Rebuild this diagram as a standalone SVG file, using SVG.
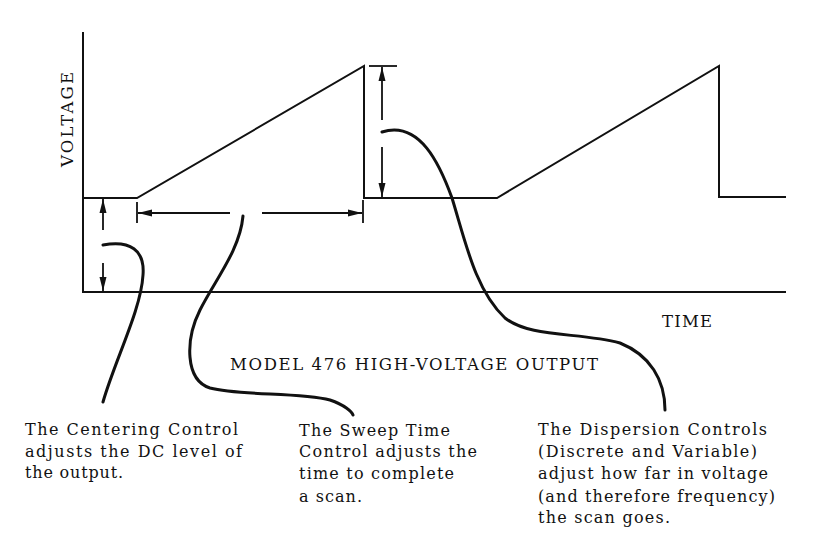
<svg xmlns="http://www.w3.org/2000/svg" width="833" height="545" viewBox="0 0 833 545">
<style>
.ln{fill:none;stroke:#111;stroke-width:2;stroke-linejoin:miter}
.dim{fill:none;stroke:#111;stroke-width:1.8}
.cv{fill:none;stroke:#111;stroke-width:3;stroke-linecap:round}
.t{font-family:"DejaVu Serif","Liberation Serif",serif;font-size:16px;fill:#111}
.h{font-family:"DejaVu Serif","Liberation Serif",serif;font-size:16.5px;fill:#111}
</style>
<defs>
<marker id="ah" markerUnits="userSpaceOnUse" markerWidth="15" markerHeight="8" refX="14" refY="4" orient="auto">
<path d="M0,0.5 L14,4 L0,7.5 z" fill="#111"/>
</marker>
</defs>
<rect width="833" height="545" fill="#fff"/>
<g id="axes">
<path class="ln" d="M83,32 V292 H786"/>
</g>
<g id="waveform">
<path class="ln" d="M83,198 H137 L364,66 V198 H497 L719,66 V197 H786"/>
</g>
<g id="centering-dim">
<line class="dim" x1="103" y1="230" x2="103" y2="199" marker-end="url(#ah)"/>
<line class="dim" x1="103" y1="263" x2="103" y2="291" marker-end="url(#ah)"/>
</g>
<g id="sweep-dim">
<line class="dim" x1="137" y1="202" x2="137" y2="223"/>
<line class="dim" x1="363" y1="200" x2="363" y2="223"/>
<line class="dim" x1="230" y1="213" x2="138" y2="213" marker-end="url(#ah)"/>
<line class="dim" x1="262" y1="213" x2="362" y2="213" marker-end="url(#ah)"/>
</g>
<g id="dispersion-dim">
<line class="dim" x1="369" y1="66" x2="397" y2="66"/>
<line class="dim" x1="382" y1="120" x2="382" y2="67" marker-end="url(#ah)"/>
<line class="dim" x1="382" y1="147" x2="382" y2="197" marker-end="url(#ah)"/>
</g>
<g id="connectors">
<path class="cv" d="M103,245 C130,240 145,250 143,275 C141,310 115,360 103,402"/>
<path class="cv" d="M243,216 C240,250 215,280 200,310 C185,340 185,380 210,388 C240,396 300,392 330,400 C345,405 352,412 353,415"/>
<path class="cv" d="M382,132 C420,120 440,165 452,198 C465,240 475,290 505,318 C530,338 580,332 620,343 C650,355 665,380 665,410"/>
</g>
<g id="axis-labels">
<text class="h" transform="translate(73,167) rotate(-90)" textLength="95" lengthAdjust="spacing">VOLTAGE</text>
<text class="h" x="662" y="327" textLength="50" lengthAdjust="spacing">TIME</text>
<text class="h" x="230" y="370" textLength="368" lengthAdjust="spacing">MODEL 476 HIGH-VOLTAGE OUTPUT</text>
</g>
<g id="centering-note">
<text class="t" x="25" y="435" textLength="213" lengthAdjust="spacing">The Centering Control</text>
<text class="t" x="25" y="457" textLength="217" lengthAdjust="spacing">adjusts the DC level of</text>
<text class="t" x="25" y="478" textLength="98" lengthAdjust="spacing">the output.</text>
</g>
<g id="sweep-note">
<text class="t" x="299" y="436" textLength="151" lengthAdjust="spacing">The Sweep Time</text>
<text class="t" x="299" y="457" textLength="178" lengthAdjust="spacing">Control adjusts the</text>
<text class="t" x="299" y="479" textLength="155" lengthAdjust="spacing">time to complete</text>
<text class="t" x="299" y="502" textLength="63" lengthAdjust="spacing">a scan.</text>
</g>
<g id="dispersion-note">
<text class="t" x="538" y="435" textLength="229" lengthAdjust="spacing">The Dispersion Controls</text>
<text class="t" x="538" y="457" textLength="219" lengthAdjust="spacing">(Discrete and Variable)</text>
<text class="t" x="538" y="479" textLength="230" lengthAdjust="spacing">adjust how far in voltage</text>
<text class="t" x="538" y="502" textLength="237" lengthAdjust="spacing">(and therefore frequency)</text>
<text class="t" x="538" y="523" textLength="132" lengthAdjust="spacing">the scan goes.</text>
</g>
</svg>
